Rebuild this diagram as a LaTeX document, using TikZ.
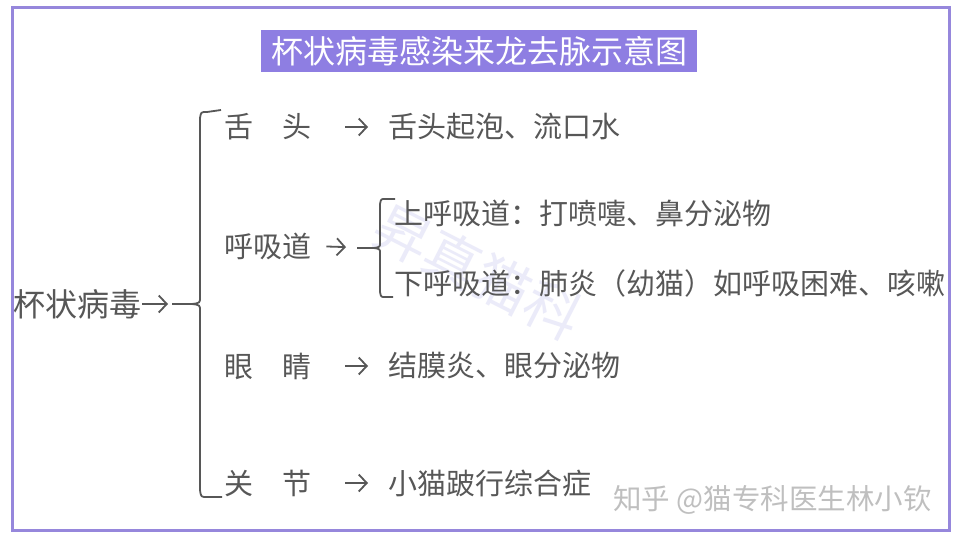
\documentclass[tikz,border=0pt]{standalone}
\usepackage{fontspec}
\setmainfont{Noto Sans CJK SC}
\usetikzlibrary{arrows.meta}
\definecolor{framecol}{HTML}{9687DC}
\definecolor{titlebg}{HTML}{8E7EE2}
\definecolor{ink}{HTML}{575757}
\definecolor{markcol}{HTML}{EBEBF9}
\tikzset{
  item/.style={anchor=west,inner sep=0pt,text=ink,font=\fontsize{29}{30}\selectfont},
  arr/.style={ink,line width=1.8pt,-{Straight Barb[length=8pt,width=17pt]}},
  brace/.style={ink,line width=1.8pt,line join=round}
}
\begin{document}
\begin{tikzpicture}[x=1pt,y=-1pt]
\useasboundingbox[fill=white] (0,0) rectangle (960,540);
\draw[framecol,line width=3pt] (12,8) rectangle (949,530); % frame
\node[rotate=-27,text=markcol,font=\fontsize{56}{60}\selectfont] (stamp) at (478,272) {昇真猫科}; % faint stamp
\node[fill=titlebg,text=white,minimum width=436pt,minimum height=42pt,inner sep=0pt,font=\fontsize{32}{33}\selectfont] (title) at (479,51) {杯状病毒感染来龙去脉示意图}; % title
% root
\node[item,font=\fontsize{32}{33}\selectfont] (virus) at (13,304) {杯状病毒}; % root label
\coordinate (cusp) at (192,304);
\draw[arr,shorten <=1pt,shorten >=24pt] (virus.east) -- (cusp); % root arrow
\draw[brace] ([xshift=-20pt]cusp) -- (cusp); % stub
\draw[brace] (221,110) -- (207,112) .. controls (201,112) .. (200,118) -- (200,297) .. controls (200,303) .. (cusp) .. controls (200,305) .. (200,311) -- (200,490) .. controls (201,497) .. (207,497) -- (222,497); % big brace
% tongue
\node[item] (t1) at (224,127) {舌　头};
\node[item] (r1) at (388,127) {舌头起泡、流口水};
\draw[arr,shorten <=34pt,shorten >=20pt] (t1.east) -- (r1.west);
% airway
\node[item] (t2) at (224,246) {呼吸道};
\coordinate (subcusp) at (374,248);
\draw[arr,shorten <=15pt,shorten >=28pt] (t2.east) -- (subcusp);
\draw[brace] ([xshift=-17pt]subcusp) -- (subcusp); % stub
\draw[brace] (395,199) -- (385,199) .. controls (381,199) .. (380,204) -- (380,243) .. controls (380,247) .. (subcusp) .. controls (380,249) .. (380,253) -- (380,292) .. controls (381,297) .. (385,297) -- (393,297); % small brace
\node[item] (up) at (394,213) {上呼吸道：打喷嚏、鼻分泌物};
\node[item] (low) at (394,283) {下呼吸道：肺炎（幼猫）如呼吸困难、咳嗽};
% eyes
\node[item] (t3) at (224,366) {眼　睛};
\node[item] (r3) at (388,366) {结膜炎、眼分泌物};
\draw[arr,shorten <=34pt,shorten >=20pt] (t3.east) -- (r3.west);
% joints
\node[item] (t4) at (224,483) {关　节};
\node[item] (r4) at (388,483) {小猫跛行综合症};
\draw[arr,shorten <=34pt,shorten >=20pt] (t4.east) -- (r4.west);
\node[anchor=west,inner sep=0pt,text=gray!50,font=\fontsize{28.5}{30}\selectfont] (zhihu) at (613,500) {知乎 @猫专科医生林小钦}; % site mark
\end{tikzpicture}
\end{document}
